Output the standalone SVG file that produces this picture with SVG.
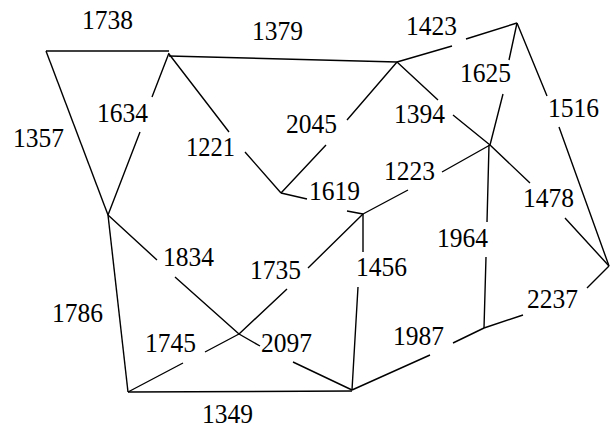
<svg xmlns="http://www.w3.org/2000/svg" width="610" height="432" viewBox="0 0 610 432">
<style>
.e{fill:none;stroke:#000;stroke-width:1.4;stroke-linecap:butt}
.l{font-family:"Liberation Serif","Times New Roman",serif;font-size:28px;fill:#000}
</style>
<rect x="0" y="0" width="610" height="432" fill="#fff"/>
<g id="connectors">
<path class="e" d="M46,51 L169,51"/>
<path class="e" d="M46,51 L108,215"/>
<path class="e" d="M169,53 L152,97 M140,132 L108,215"/>
<path class="e" d="M169,56 L397,62"/>
<path class="e" d="M169,54 L229,132 M245,152 L281,193"/>
<path class="e" d="M397,62 L452,46 M466,39 L517,23"/>
<path class="e" d="M397,62 L347,120 M326,145 L281,193"/>
<path class="e" d="M397,62 L438,100 M453,115 L490,145"/>
<path class="e" d="M517,23 L509,60 M503,94 L490,145"/>
<path class="e" d="M517,23 L547,96 M559,127 L609,266"/>
<path class="e" d="M490,145 L442,172 M408,190 L363,214"/>
<path class="e" d="M490,145 L530,183 M565,218 L609,266"/>
<path class="e" d="M489,145 L487,222 M486,257 L484,328"/>
<path class="e" d="M281,193 L307,199 M347,211 L363,214"/>
<path class="e" d="M108,215 L128,392"/>
<path class="e" d="M108,215 L157,260 M175,277 L239,334"/>
<path class="e" d="M128,392 L183,363 M205,352 L239,334"/>
<path class="e" d="M239,334 L260,346 M293,362 L352,390"/>
<path class="e" d="M239,334 L287,289 M308,268 L363,214"/>
<path class="e" d="M363,214 L363,252 M358,287 L352,390"/>
<path class="e" d="M128,392 L352,391"/>
<path class="e" d="M352,390 L430,355 M453,343 L484,328"/>
<path class="e" d="M484,328 L523,315 M587,288 L609,266"/>
</g>
<g id="labels">
<text class="l" x="82" y="29" textLength="51" lengthAdjust="spacingAndGlyphs">1738</text>
<text class="l" x="252" y="40" textLength="51" lengthAdjust="spacingAndGlyphs">1379</text>
<text class="l" x="406" y="35" textLength="51" lengthAdjust="spacingAndGlyphs">1423</text>
<text class="l" x="460" y="82" textLength="51" lengthAdjust="spacingAndGlyphs">1625</text>
<text class="l" x="548" y="117" textLength="51" lengthAdjust="spacingAndGlyphs">1516</text>
<text class="l" x="13" y="147" textLength="51" lengthAdjust="spacingAndGlyphs">1357</text>
<text class="l" x="97" y="122" textLength="51" lengthAdjust="spacingAndGlyphs">1634</text>
<text class="l" x="186" y="156" textLength="49" lengthAdjust="spacingAndGlyphs">1221</text>
<text class="l" x="286" y="133" textLength="51" lengthAdjust="spacingAndGlyphs">2045</text>
<text class="l" x="394" y="123" textLength="51" lengthAdjust="spacingAndGlyphs">1394</text>
<text class="l" x="384" y="180" textLength="51" lengthAdjust="spacingAndGlyphs">1223</text>
<text class="l" x="523" y="207" textLength="51" lengthAdjust="spacingAndGlyphs">1478</text>
<text class="l" x="309" y="200" textLength="51" lengthAdjust="spacingAndGlyphs">1619</text>
<text class="l" x="163" y="266" textLength="51" lengthAdjust="spacingAndGlyphs">1834</text>
<text class="l" x="250" y="279" textLength="51" lengthAdjust="spacingAndGlyphs">1735</text>
<text class="l" x="356" y="276" textLength="51" lengthAdjust="spacingAndGlyphs">1456</text>
<text class="l" x="437" y="247" textLength="51" lengthAdjust="spacingAndGlyphs">1964</text>
<text class="l" x="527" y="308" textLength="51" lengthAdjust="spacingAndGlyphs">2237</text>
<text class="l" x="52" y="322" textLength="51" lengthAdjust="spacingAndGlyphs">1786</text>
<text class="l" x="145" y="352" textLength="51" lengthAdjust="spacingAndGlyphs">1745</text>
<text class="l" x="261" y="352" textLength="51" lengthAdjust="spacingAndGlyphs">2097</text>
<text class="l" x="393" y="345" textLength="51" lengthAdjust="spacingAndGlyphs">1987</text>
<text class="l" x="202" y="423" textLength="51" lengthAdjust="spacingAndGlyphs">1349</text>
</g>
</svg>
